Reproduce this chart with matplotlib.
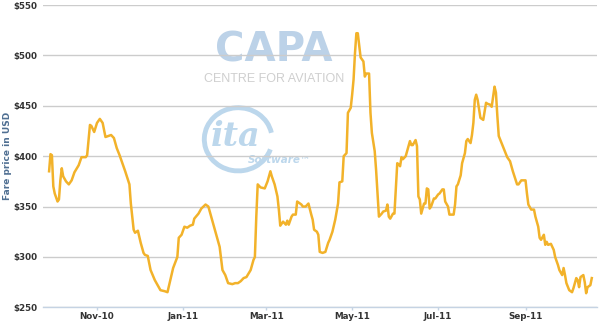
import matplotlib
matplotlib.use("Agg")
import matplotlib.pyplot as plt
import matplotlib.dates as mdates
from matplotlib.patches import Arc
import pandas as pd

# Daily lowest fare, days counted from the first sample (28 Sep 2010)
start_date = "2010-09-28"
days = [0, 1, 2, 3, 4, 6, 7, 8, 9, 10, 12, 14, 16, 18, 21, 23, 26, 27, 29, 30,
        32, 34, 36, 38, 40, 42, 44, 46, 48, 50, 52, 54, 57, 58, 60, 61, 63, 65, 67, 68,
        70, 72, 75, 77, 79, 82, 84, 86, 88, 91, 92, 94, 96, 98, 100, 102, 103, 106, 108, 111,
        113, 114, 117, 119, 121, 123, 125, 127, 130, 132, 134, 136, 138, 140, 143, 145, 146, 147, 148, 150,
        153, 155, 157, 158, 160, 162, 163, 164, 166, 168, 169, 170, 172, 173, 175, 176, 178, 179, 180, 182,
        184, 186, 187, 188, 190, 191, 192, 194, 196, 198, 199, 201, 203, 205, 206, 208, 209, 211, 212, 214,
        215, 216, 217, 218, 219, 221, 222, 223, 224, 225, 227, 228, 229, 231, 232, 234, 236, 237, 239, 240,
        241, 242, 244, 245, 247, 248, 249, 250, 251, 253, 254, 256, 257, 258, 260, 261, 262, 263, 264, 266,
        267, 268, 269, 270, 271, 273, 274, 276, 277, 279, 280, 281, 283, 284, 287, 288, 289, 290, 292, 293,
        295, 296, 297, 299, 300, 301, 302, 303, 304, 306, 308, 310, 311, 313, 314, 316, 317, 318, 319, 323,
        325, 327, 329, 332, 333, 335, 338, 339, 340, 342, 344, 345, 347, 348, 349, 351, 352, 353, 354, 356,
        358, 359, 361, 362, 364, 365, 366, 367, 369, 371, 372, 374, 375, 376, 377, 379, 380, 381, 382, 384,
        385]
fares = [385, 402, 401, 370, 363, 355, 357, 376, 388, 380, 375, 372, 376, 384, 391, 399, 399, 401, 431, 430,
         424, 433, 437, 433, 419, 420, 421, 418, 408, 401, 393, 385, 372, 353, 327, 324, 326, 314, 304, 302,
         301, 287, 277, 272, 267, 266, 265, 277, 289, 300, 319, 322, 330, 329, 331, 332, 338, 343, 348, 352,
         350, 345, 330, 320, 310, 287, 282, 274, 273, 274, 274, 276, 279, 280, 287, 297, 300, 340, 372, 369,
         368, 375, 385, 380, 372, 360, 347, 331, 335, 332, 336, 332, 340, 342, 342, 355, 353, 352, 350, 350,
         353, 342, 337, 327, 325, 322, 305, 304, 305, 314, 317, 325, 337, 353, 374, 375, 400, 403, 443, 448,
         461, 476, 502, 522, 522, 498, 496, 494, 479, 482, 482, 443, 423, 405, 386, 340, 343, 345, 346, 352,
         340, 338, 343, 343, 393, 392, 390, 399, 397, 400, 405, 415, 411, 411, 416, 410, 360, 357, 343, 353,
         353, 368, 367, 348, 350, 358, 358, 362, 363, 367, 367, 355, 350, 342, 342, 352, 370, 372, 381, 393,
         403, 415, 417, 413, 421, 433, 456, 461, 456, 438, 436, 453, 452, 451, 449, 469, 463, 440, 420, 406,
         399, 395, 385, 372, 372, 376, 376, 363, 352, 347, 347, 340, 330, 319, 317, 322, 312, 315, 312, 313,
         307, 300, 292, 287, 282, 289, 282, 274, 267, 265, 269, 279, 277, 270, 280, 282, 275, 264, 270, 272,
         279]
y_ticks = [250, 300, 350, 400, 450, 500, 550]

dates = pd.to_datetime(start_date) + pd.to_timedelta(days, unit="D")

fig = plt.figure(figsize=(6, 3.24), dpi=100)
ax = fig.add_axes([0.0717, 0.0515, 0.9233, 0.933])

ax.plot(dates, fares, color="#f2b22a", linewidth=1.8, zorder=3)

ax.set_ylim(250, 550)
ax.set_yticks(y_ticks)
ax.set_yticklabels(["$%d" % v for v in y_ticks])
t0 = pd.to_datetime(start_date)
ax.set_xlim(t0 - pd.Timedelta(days=4.3), t0 + pd.Timedelta(days=388.7))
ax.xaxis.set_major_locator(mdates.MonthLocator(bymonth=[1, 3, 5, 7, 9, 11]))
ax.xaxis.set_major_formatter(mdates.DateFormatter("%b-%y"))

ax.grid(axis="y", color="#cccccc", linewidth=1, zorder=1)
ax.set_axisbelow(True)
for side in ["top", "right", "left"]:
    ax.spines[side].set_visible(False)
ax.spines["bottom"].set_color("#c5d3e3")
ax.spines["bottom"].set_linewidth(1)
ax.tick_params(axis="y", length=0, pad=4, labelsize=6.3, labelcolor="#333333")
ax.tick_params(axis="x", length=2.5, width=1, color="#c5d3e3", pad=1,
               labelsize=6.3, labelcolor="#333333")
for lbl in ax.get_xticklabels() + ax.get_yticklabels():
    lbl.set_fontweight("bold")

fig.text(0.012, 0.52, "Fare price in USD", rotation=90, ha="center", va="center",
         fontsize=6.5, fontweight="bold", color="#4f6f92")

# watermark logos
ax.text(0.457, 0.81, "CAPA", transform=fig.transFigure, ha="center", va="baseline",
        fontsize=29, fontweight="bold", color="#bcd2e8", zorder=0.5)
ax.text(0.457, 0.776, "CENTRE FOR AVIATION", transform=fig.transFigure,
        ha="center", va="top", fontsize=9, family="Liberation Sans",
        color="#cfcfcf", zorder=0.5)
ax.add_patch(Arc((0.397, 0.57), 0.113, 0.195, theta1=20, theta2=330,
                 transform=fig.transFigure, color="#bcd7ec", linewidth=3.5, zorder=0.5))
ax.text(0.393, 0.58, "ita", transform=fig.transFigure, ha="center", va="center",
        fontsize=24, style="italic", fontweight="bold", family="DejaVu Serif",
        color="#bcd7ec", zorder=0.5)
ax.text(0.413, 0.505, "Software\u2122", transform=fig.transFigure, ha="left", va="center",
        fontsize=7.5, style="italic", fontweight="bold", color="#bcd7ec", zorder=0.5)

fig.savefig("out.png", dpi=100)
